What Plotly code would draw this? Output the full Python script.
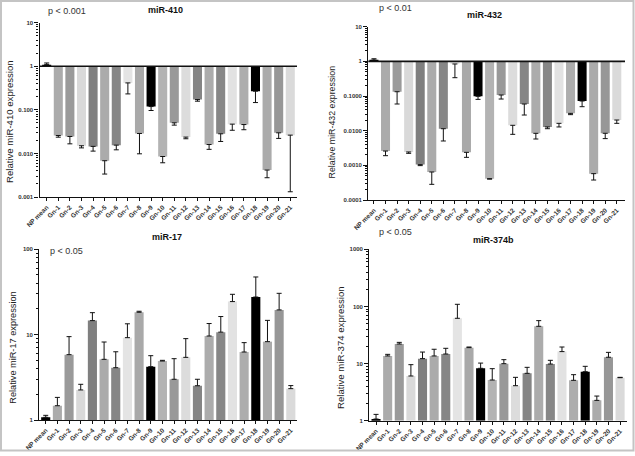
import plotly.graph_objects as go

W, H = 635, 456

categories = ["NP mean", "Gn-1", "Gn-2", "Gn-3", "Gn-4", "Gn-5", "Gn-6", "Gn-7",
              "Gn-8", "Gn-9", "Gn-10", "Gn-11", "Gn-12", "Gn-13", "Gn-14", "Gn-15",
              "Gn-16", "Gn-17", "Gn-18", "Gn-19", "Gn-20", "Gn-21"]

bar_colors = ["#000000", "#ababab", "#9a9a9a", "#d9d9d9", "#7f7f7f", "#ababab",
              "#868686", "#e4e4e4", "#a9a9a9", "#000000", "#b3b3b3", "#999999",
              "#dcdcdc", "#858585", "#acacac", "#878787", "#e2e2e2", "#adadad",
              "#000000", "#ababab", "#979797", "#dadada"]

# miR-410 (relative expression, mean and error-bar end)
mir410_mean = [1.09, 0.0258, 0.0245, 0.015, 0.0145, 0.0068, 0.0155, 0.415, 0.0287, 0.119,
               0.0085, 0.0504, 0.0237, 0.172, 0.016, 0.0282, 0.047, 0.046, 0.268, 0.00415,
               0.0297, 0.0263]
mir410_errend = [1.19, 0.0236, 0.0166, 0.0134, 0.0113, 0.00336, 0.0121, 0.232, 0.0098, 0.0966,
                 0.0061, 0.0446, 0.0217, 0.158, 0.0124, 0.0188, 0.034, 0.035, 0.147, 0.00277,
                 0.0221, 0.00132]

# miR-432
mir432_mean = [1.09, 0.00259, 0.133, 0.00243, 0.00105, 0.000643, 0.0114, 0.84, 0.00237, 0.098,
               0.000412, 0.107, 0.0143, 0.0588, 0.00838, 0.0128, 0.0163, 0.0316, 0.0718,
               0.000575, 0.0084, 0.0203]
mir432_errend = [1.19, 0.0019, 0.0588, 0.00222, 0.00098, 0.000283, 0.00504, 0.338, 0.0017, 0.080,
                 0.0004, 0.0819, 0.00784, 0.0283, 0.00575, 0.0114, 0.0128, 0.029, 0.0492,
                 0.000377, 0.0059, 0.0163]

# miR-17
mir17_mean = [1.075, 1.47, 5.83, 2.25, 14.6, 5.14, 4.1, 9.22, 18.3, 4.22, 4.91, 3.0, 5.42,
              2.52, 9.64, 10.7, 24.4, 6.26, 27.6, 8.28, 19.5, 2.33]
mir17_errend = [1.134, 1.84, 9.48, 2.62, 18.1, 8.2, 6.3, 13.4, 18.8, 5.67, 5.0, 5.23, 8.98,
                3.0, 13.5, 16.3, 29.7, 8.06, 47.4, 14.7, 30.5, 2.53]

# miR-374b
mir374_mean = [1.07, 13.6, 22.0, 6.06, 12.2, 13.6, 14.7, 62.0, 19.0, 8.26, 5.15, 9.96, 4.1,
               6.75, 44.9, 9.82, 16.2, 5.09, 7.21, 2.27, 12.9, 5.66]
mir374_errend = [1.29, 14.5, 23.5, 9.57, 15.9, 17.8, 18.5, 109.0, 19.5, 10.2, 8.14, 11.7, 5.74,
                 8.59, 56.4, 11.4, 19.5, 6.39, 8.95, 2.7, 15.7, 5.74]

FONT = "Liberation Sans, Arial, sans-serif"


def px(x):
    return x / W


def py(y):
    return 1 - y / H


panels = [
    dict(title="miR-410", p="p < 0.001", ylab="Relative miR-410 expression",
         mean=mir410_mean, errend=mir410_errend,
         xdom=[px(39.5), px(297)], xr=[-0.62, 21.58],
         ydom=[py(197), py(22.7)], yr=[-3, 1],
         tickvals=[0.001, 0.01, 0.1, 1, 10], ticktext=["0.001", "0.010", "0.100", "1", "10"],
         tpos=(165.7, 10), ppos=(66.7, 11), lpos=(9.3, 121.7), lsize=9.6, baseline=True),
    dict(title="miR-432", p="p < 0.01", ylab="Relative miR-432 expression",
         mean=mir432_mean, errend=mir432_errend,
         xdom=[px(368.3), px(625)], xr=[-0.49, 21.71],
         ydom=[py(200), py(26.7)], yr=[-4, 1],
         tickvals=[0.0001, 0.001, 0.01, 0.1, 1, 10],
         ticktext=["0.0001", "0.0010", "0.0100", "0.1000", "1", "10"],
         tpos=(484, 15), ppos=(395, 7.5), lpos=(331.7, 121.7), lsize=8.8, baseline=True),
    dict(title="miR-17", p="p < 0.05", ylab="Relative miR-17 expression",
         mean=mir17_mean, errend=mir17_errend,
         xdom=[px(39.3), px(297)], xr=[-0.55, 21.53],
         ydom=[py(420), py(249.3)], yr=[0, 2],
         tickvals=[1, 10, 100], ticktext=["1", "10", "100"],
         tpos=(166.7, 236.7), ppos=(66, 251), lpos=(12.7, 348), lsize=9.2, baseline=False),
    dict(title="miR-374b", p="p < 0.05", ylab="Relative miR-374 expression",
         mean=mir374_mean, errend=mir374_errend,
         xdom=[px(369.3), px(626.7)], xr=[-0.58, 21.57],
         ydom=[py(420.7), py(249.3)], yr=[0, 3],
         tickvals=[1, 10, 100, 1000], ticktext=["1", "10", "100", "1000"],
         tpos=(493.7, 240), ppos=(395.5, 232), lpos=(340, 348), lsize=9.6, baseline=False),
]

fig = go.Figure()
annotations = []
shapes = []

for i, p in enumerate(panels):
    n = "" if i == 0 else str(i + 1)
    xa, ya = "x" + n, "y" + n
    mean = p["mean"]
    errend = p["errend"]
    # bars hang from 1
    fig.add_trace(go.Bar(
        x=categories, y=[v - 1 for v in mean], base=[1] * len(mean),
        marker=dict(color=bar_colors, line=dict(width=0)),
        width=0.78, xaxis=xa, yaxis=ya, showlegend=False, hoverinfo="skip"))
    plus = [max(e - v, 0) for v, e in zip(mean, errend)]
    minus = [max(v - e, 0) for v, e in zip(mean, errend)]
    fig.add_trace(go.Scatter(
        x=categories, y=mean, mode="markers",
        marker=dict(size=1, color="rgba(0,0,0,0)"),
        error_y=dict(type="data", symmetric=False, array=plus, arrayminus=minus,
                     color="#111111", thickness=1, width=2.5),
        xaxis=xa, yaxis=ya, showlegend=False, hoverinfo="skip"))

    fig.update_layout(**{
        ("xaxis" + n): dict(
            domain=p["xdom"], range=p["xr"], type="category", anchor=ya,
            automargin=False,
            showline=True, linecolor="#111111", linewidth=1.3,
            ticks="outside", ticklen=3, tickwidth=1, tickcolor="#111111",
            tickangle=-45,
            tickfont=dict(family=FONT, size=6.5, color="#333333", weight="bold"),
            showgrid=False, zeroline=False, fixedrange=True),
        ("yaxis" + n): dict(
            domain=p["ydom"], range=p["yr"], type="log", anchor=xa,
            automargin=False,
            showline=True, linecolor="#111111", linewidth=1.3,
            tickmode="array", tickvals=p["tickvals"], ticktext=p["ticktext"],
            ticks="outside", ticklen=4, tickwidth=1, tickcolor="#111111",
            tickfont=dict(family=FONT, size=6, color="#333333", weight="bold"),
            minor=dict(ticks="outside", ticklen=2, tickwidth=0.8, tickcolor="#111111",
                       dtick="D1", showgrid=False),
            showgrid=False, zeroline=False, fixedrange=True),
    })

    if p["baseline"]:
        shapes.append(dict(type="line", xref=xa + " domain", yref=ya,
                           x0=0, x1=1, y0=1, y1=1,
                           line=dict(color="#111111", width=1.6)))

    annotations.append(dict(text="<b>" + p["title"] + "</b>", xref="paper", yref="paper",
                            x=px(p["tpos"][0]), y=py(p["tpos"][1]), showarrow=False,
                            xanchor="center", yanchor="middle",
                            font=dict(family=FONT, size=9, color="#111111")))
    annotations.append(dict(text=p["p"], xref="paper", yref="paper",
                            x=px(p["ppos"][0]), y=py(p["ppos"][1]), showarrow=False,
                            xanchor="center", yanchor="middle",
                            font=dict(family=FONT, size=9, color="#333333")))
    annotations.append(dict(text=p["ylab"], xref="paper", yref="paper", textangle=-90,
                            x=px(p["lpos"][0]), y=py(p["lpos"][1]), showarrow=False,
                            xanchor="center", yanchor="middle",
                            font=dict(family=FONT, size=p["lsize"], color="#222222")))

shapes.append(dict(type="rect", xref="paper", yref="paper",
                   x0=px(1), x1=px(633.5), y0=py(450.5), y1=py(1),
                   line=dict(color="#c4c4c4", width=2), fillcolor="rgba(0,0,0,0)"))

fig.update_layout(
    template="none",
    width=W, height=H, margin=dict(l=0, r=0, t=0, b=0, pad=0),
    paper_bgcolor="white", plot_bgcolor="white",
    bargap=0.22, annotations=annotations, shapes=shapes,
    font=dict(family=FONT),
)

fig.write_html("out.html", config={"displayModeBar": False},
               post_script="document.body.style.margin='0px';"
                           "document.body.style.overflow='hidden';")
